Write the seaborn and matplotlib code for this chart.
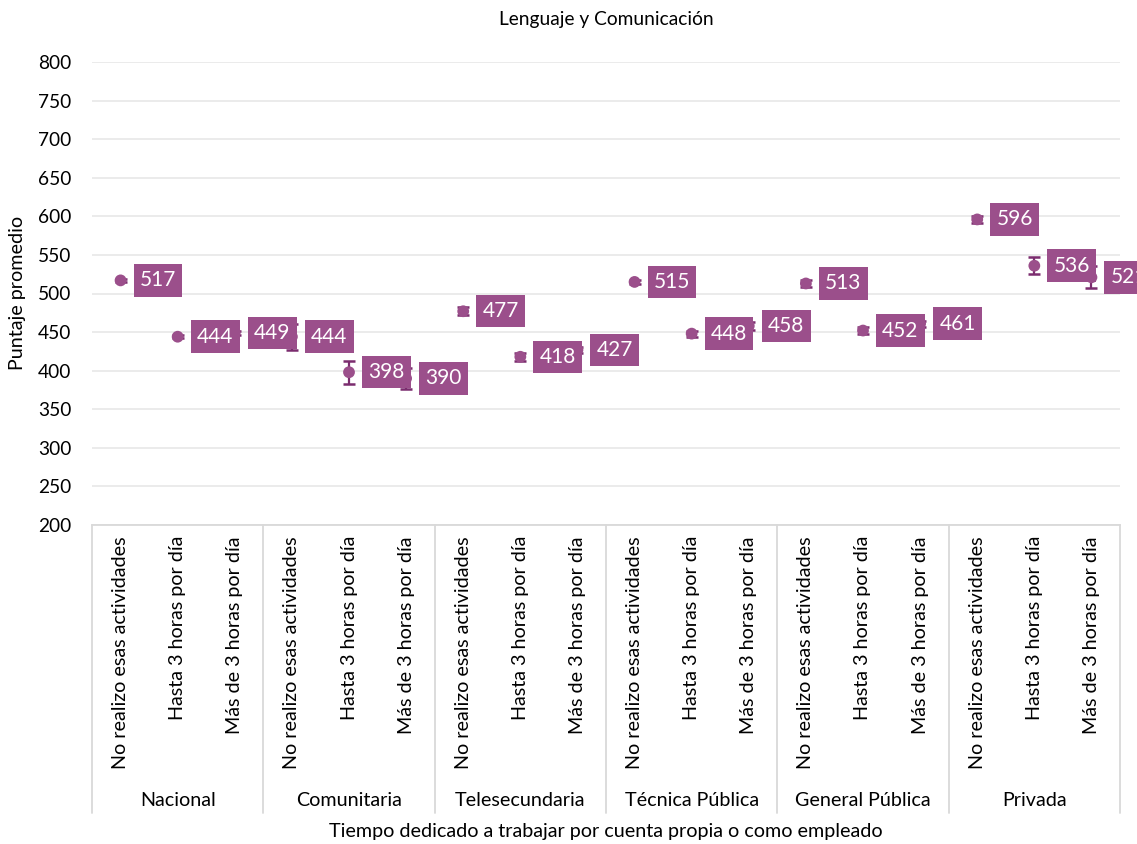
import matplotlib
matplotlib.use("Agg")
import matplotlib.pyplot as plt
import matplotlib.transforms as mtransforms
import seaborn as sns
import pandas as pd
import numpy as np

# ---- data ----
groups = ["Nacional", "Comunitaria", "Telesecundaria", "Técnica Pública",
          "General Pública", "Privada"]
categories = ["No realizo esas actividades", "Hasta 3 horas por día",
              "Más de 3 horas por día"]
scores = [517, 444, 449,
          444, 398, 390,
          477, 418, 427,
          515, 448, 458,
          513, 452, 461,
          596, 536, 521]
errors = [2, 2, 3,
          17, 15, 14,
          5, 5, 4,
          3, 4, 5,
          4, 4, 4,
          5, 11, 14]
title = "Lenguaje y Comunicación"
xlabel = "Tiempo dedicado a trabajar por cuenta propia o como empleado"
ylabel = "Puntaje promedio"
yticks = [200, 250, 300, 350, 400, 450, 500, 550, 600, 650, 700, 750, 800]

rows = []
for gi, g in enumerate(groups):
    for ci, c in enumerate(categories):
        k = gi * len(categories) + ci
        rows.append({"grupo": g, "categoria": c, "pos": k,
                     "puntaje": scores[k], "error": errors[k]})
df = pd.DataFrame(rows)

# ---- style ----
sns.set_theme(style="white")
plt.rcParams["font.family"] = ["Lato", "DejaVu Sans"]
PURPLE = "#9B4F8B"
DARK = "#7B2C6E"
GRID = "#E9E9E9"
TXT = "#000000"
FS = 14.2

W, H = 1137, 844
fig = plt.figure(figsize=(W / 100, H / 100), dpi=100)
ax = fig.add_axes([92 / W, 1 - 525 / H, (1120 - 92) / W, (525 - 62) / H])

ax.errorbar(df["pos"], df["puntaje"], yerr=df["error"], fmt="none",
            ecolor=DARK, elinewidth=1.6, capsize=4, capthick=1.8, zorder=3)
sns.scatterplot(data=df, x="pos", y="puntaje", ax=ax, color=PURPLE, s=72,
                edgecolor="none", zorder=4, legend=False)

LFS = 15
LPAD = 0.3
off_pt = 13 * 0.72 + LPAD * LFS
for _, r in df.iterrows():
    ax.annotate(f"{r['puntaje']}", xy=(r["pos"], r["puntaje"]),
                xytext=(off_pt, 0), textcoords="offset points",
                ha="left", va="center", color="white", fontsize=LFS,
                bbox=dict(boxstyle=f"square,pad={LPAD}", fc=PURPLE, ec="none"),
                zorder=5, annotation_clip=False)

ax.set_xlim(-0.5, len(df) - 0.5)
ax.set_ylim(200, 800)
ax.set_yticks(yticks)
ax.set_yticklabels([str(v) for v in yticks], fontsize=FS - 0.4, color=TXT)
ax.yaxis.grid(True, color=GRID, linewidth=1.3)
ax.xaxis.grid(False)
for s in ["top", "right", "left"]:
    ax.spines[s].set_visible(False)
ax.spines["bottom"].set_color("#D9D9D9")
ax.spines["bottom"].set_linewidth(1.3)
ax.tick_params(axis="y", length=0, pad=15)
ax.tick_params(axis="x", length=0, pad=8)

ax.set_xticks(df["pos"])
ax.set_xticklabels(df["categoria"], rotation=90, fontsize=FS, color=TXT,
                   va="top", ha="center")
ax.set_xlabel("")
ax.set_ylabel("")

# group separators and labels
trans = mtransforms.blended_transform_factory(ax.transData, ax.transAxes)
bottom_ax = -(813 - 525) / (525 - 62)
label_ax = -(800 - 525) / (525 - 62)
ncat = len(categories)
for gi in range(len(groups) + 1):
    xb = gi * ncat - 0.5
    ax.plot([xb, xb], [0, bottom_ax], transform=trans, color="#D9D9D9",
            linewidth=1.3, clip_on=False, zorder=1)
for gi, g in enumerate(groups):
    ax.text(gi * ncat + 1, label_ax, g, transform=trans, ha="center",
            va="center", fontsize=FS, color=TXT)

fig.text(18 / W, 1 - 293 / H, ylabel, rotation=90, ha="center", va="center",
         fontsize=FS, color=TXT)
fig.text((92 + 1120) / 2 / W, 1 - 831 / H, xlabel, ha="center", va="center",
         fontsize=FS, color=TXT)
fig.text((92 + 1120) / 2 / W, 1 - 20 / H, title, ha="center", va="center",
         fontsize=13.8, color=TXT)

fig.savefig("out.png", dpi=100, facecolor="white")
